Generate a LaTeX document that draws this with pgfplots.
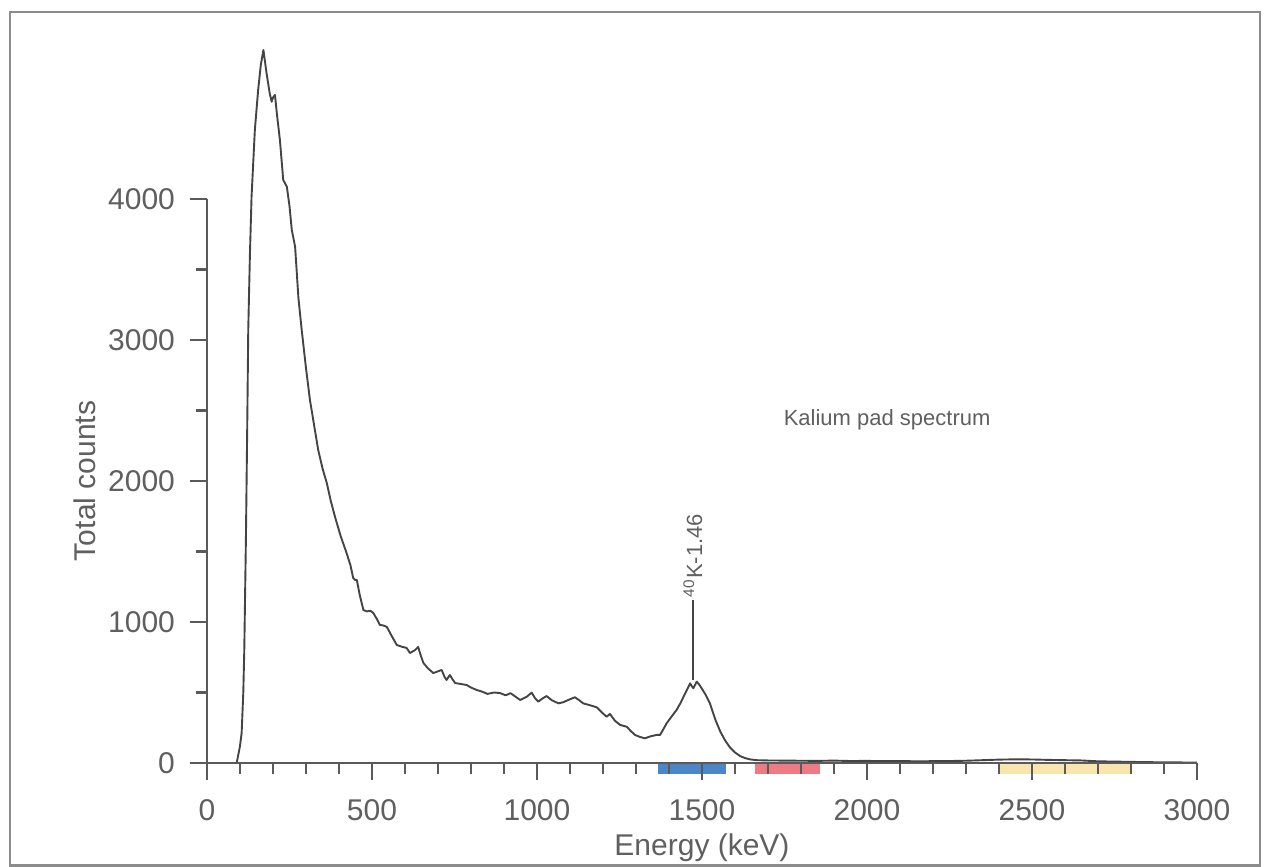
\documentclass[border=0pt]{standalone}
\usepackage{fontspec}
\setmainfont{Liberation Sans}
\usepackage{pgfplots}
\pgfplotsset{compat=1.18}
\definecolor{txt}{HTML}{5F5F5F}
\definecolor{axc}{HTML}{5A5A5A}
\definecolor{crv}{HTML}{444444}
\definecolor{fr}{HTML}{8C8C8C}
\definecolor{wblue}{HTML}{4A86C8}
\definecolor{wred}{HTML}{EE7A84}
\definecolor{wyel}{HTML}{F8E6AE}
\begin{document}
\begin{tikzpicture}
\path[use as bounding box] (-103.5pt,-52pt) rectangle (529pt,381.5pt);
\draw[fr, line width=1.3pt] (-98.5pt,-51.3pt) rectangle (526.5pt,375.5pt);
\begin{axis}[
  at={(0pt,0pt)}, anchor=south west,
  scale only axis, width=495pt, height=282pt,
  xmin=0, xmax=3000, ymin=0, ymax=4000,
  clip=false,
  axis x line*=bottom, axis y line*=left,
  axis line style={axc, line width=1.1pt},
  xtick={0,500,...,3000}, minor xtick={100,200,...,2900},
  ytick={0,1000,...,4000}, minor ytick={500,1500,2500,3500},
  tick align=outside,
  major tick length=8.5pt, minor tick length=5.5pt,
  every tick/.style={axc, line width=1.1pt},
  tick label style={font=\fontsize{15}{18}\selectfont, text=txt},
  xticklabel style={yshift=-6pt},
  yticklabel style={xshift=-4pt},
  /pgf/number format/assume math mode=true,
  /pgf/number format/1000 sep={},
  axis on top,
]
\addplot[draw=none, fill=wblue, forget plot] coordinates {(1368,0) (1573,0) (1573,-75) (1368,-75)} -- cycle;
\addplot[draw=none, fill=wred, forget plot] coordinates {(1662,0) (1857,0) (1857,-75) (1662,-75)} -- cycle;
\addplot[draw=none, fill=wyel, forget plot] coordinates {(2397,0) (2800,0) (2800,-75) (2397,-75)} -- cycle;
\addplot[crv, line width=0.95pt, line join=round, mark=none] coordinates {
(90,0) (100,120) (105,213) (110,500) (113,801) (118,1600) (122,2400) (125,3071)
(130,3600) (135,4014) (145,4489) (155,4773) (163,4950) (171,5057) (180,4900)
(190,4750) (196,4690) (200,4720) (206,4738) (212,4600) (221,4418) (231,4135)
(242,4087) (250,3950) (257,3780) (267,3662) (277,3300) (287,3071) (300,2800)
(312,2574) (325,2390) (337,2220) (350,2090) (363,1986) (375,1860) (388,1745)
(405,1610) (423,1489) (435,1400) (443,1312) (449,1298) (454,1298) (463,1190)
(474,1085) (485,1075) (495,1080) (504,1064) (515,1020) (524,979) (535,975)
(545,965) (560,900) (575,837) (590,825) (605,816) (615,780) (630,800) (640,823)
(648,760) (656,709) (670,670) (686,638) (700,650) (711,660) (720,610) (726,589)
(736,624) (745,590) (752,567) (770,560) (787,553) (800,535) (817,518) (835,505)
(850,490) (870,500) (888,496) (905,480) (920,495) (935,470) (949,447) (969,470)
(984,499) (994,460) (1004,435) (1015,455) (1029,475) (1045,445) (1065,423)
(1078,430) (1090,442) (1103,455) (1115,466) (1128,445) (1140,423) (1160,410)
(1181,395) (1196,360) (1211,328) (1221,348) (1236,300) (1252,270) (1272,257)
(1285,225) (1297,199) (1312,185) (1327,175) (1345,190) (1363,199) (1373,199)
(1383,240) (1393,282) (1408,330) (1423,376) (1436,430) (1449,494) (1457,530)
(1464,565) (1469,545) (1474,530) (1479,555) (1484,577) (1492,555) (1499,530)
(1512,480) (1524,423) (1540,310) (1555,225) (1570,160) (1585,110) (1600,75)
(1615,50) (1630,35) (1645,26) (1665,20) (1700,18) (1750,17) (1800,16) (1850,15)
(1900,17) (1950,14) (2000,15) (2050,13) (2100,14) (2150,12) (2200,13) (2250,14)
(2300,16) (2350,20) (2400,24) (2450,26) (2500,25) (2550,22) (2600,20) (2650,18)
(2700,12) (2750,10) (2800,8) (2850,6) (2900,5) (2950,4) (3000,3)
};
\draw[crv, line width=0.9pt] (axis cs:1472,590) -- (axis cs:1472,1156);
\node[rotate=90, anchor=west, inner sep=1pt, font=\fontsize{11}{13}\selectfont, text=txt] at (axis cs:1472,1160) {\textsuperscript{40}K-1.46};
\node[font=\fontsize{11}{13}\selectfont, text=txt] at (axis cs:2061,2433) {Kalium pad spectrum};
\node[font=\fontsize{15}{18}\selectfont, text=txt] at ([yshift=-42.5pt]axis cs:1500,0) {Energy (keV)};
\node[rotate=90, font=\fontsize{15}{18}\selectfont, text=txt] at ([xshift=-61pt]axis cs:0,2000) {Total counts};
\end{axis}
\end{tikzpicture}
\end{document}
